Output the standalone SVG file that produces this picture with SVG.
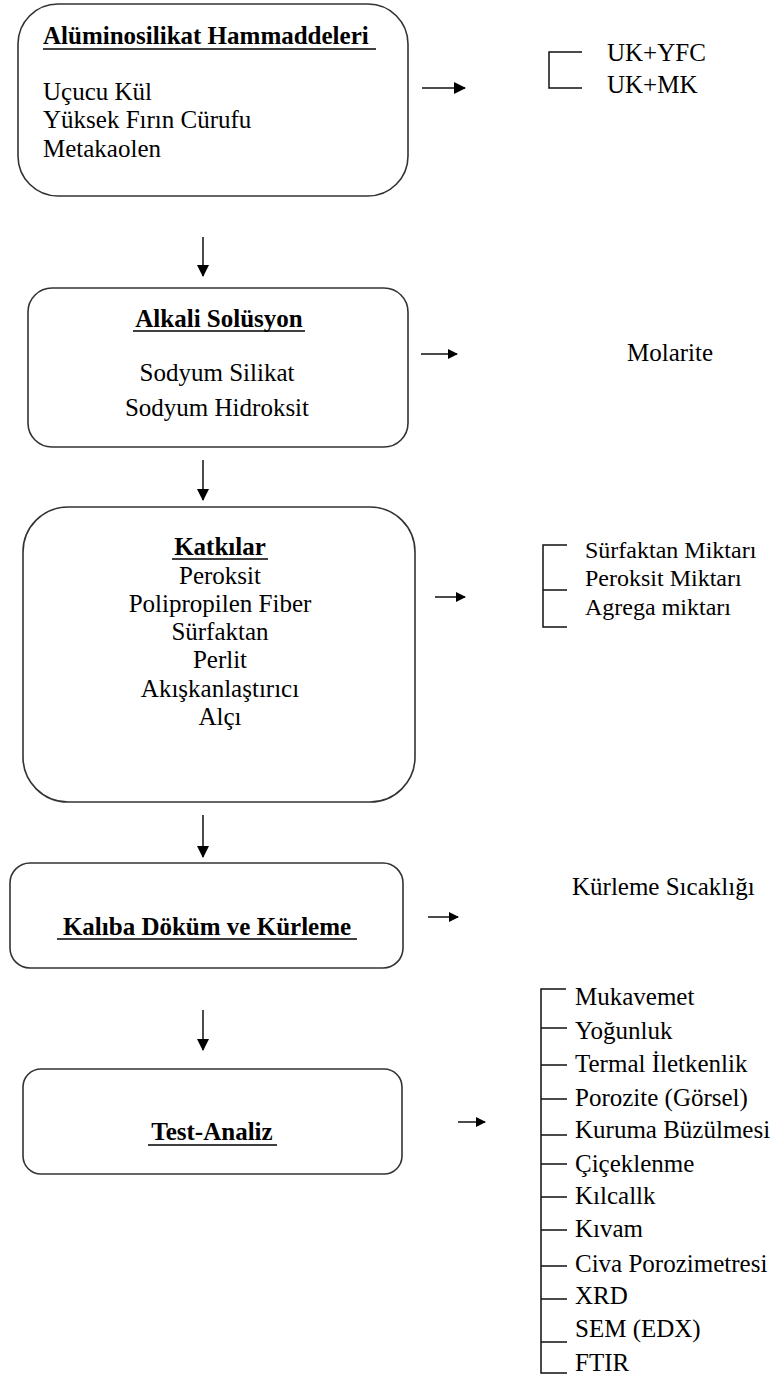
<svg xmlns="http://www.w3.org/2000/svg" width="777" height="1378" viewBox="0 0 777 1378">
<defs>
<marker id="ah" viewBox="0 0 12 12" refX="11" refY="6" markerWidth="12" markerHeight="12" markerUnits="userSpaceOnUse" orient="auto">
<path d="M0,0 L12,6 L0,12 Z" fill="#000"/>
</marker>
<marker id="ahs" viewBox="0 0 10 10" refX="9" refY="5" markerWidth="10" markerHeight="10" markerUnits="userSpaceOnUse" orient="auto">
<path d="M0,0 L10,5 L0,10 Z" fill="#000"/>
</marker>
</defs>
<rect width="777" height="1378" fill="#fff"/>

<g id="hammadde">
<rect x="18" y="4" width="390" height="192" rx="40" ry="40" fill="#fff" stroke="#333" stroke-width="1.6"/>
<text x="43" y="44" font-family="Liberation Serif" font-size="25" font-weight="bold">Alüminosilikat Hammaddeleri</text>
<line x1="43" y1="49" x2="376" y2="49" stroke="#000" stroke-width="1.5"/>
<text x="43" y="100" font-family="Liberation Serif" font-size="25">Uçucu Kül</text>
<text x="43" y="128" font-family="Liberation Serif" font-size="25">Yüksek Fırın Cürufu</text>
<text x="43" y="157" font-family="Liberation Serif" font-size="25">Metakaolen</text>
</g>

<g id="alkali">
<rect x="28" y="288" width="380" height="159" rx="24" ry="24" fill="#fff" stroke="#333" stroke-width="1.6"/>
<text x="219" y="327" font-family="Liberation Serif" font-size="25" font-weight="bold" text-anchor="middle">Alkali Solüsyon</text>
<line x1="133" y1="331" x2="305" y2="331" stroke="#000" stroke-width="1.5"/>
<text x="217" y="381" font-family="Liberation Serif" font-size="25" text-anchor="middle">Sodyum Silikat</text>
<text x="217" y="416" font-family="Liberation Serif" font-size="25" text-anchor="middle">Sodyum Hidroksit</text>
</g>

<g id="katkilar">
<rect x="23" y="507" width="392" height="295" rx="45" ry="45" fill="#fff" stroke="#333" stroke-width="1.6"/>
<text x="220" y="555" font-family="Liberation Serif" font-size="25" font-weight="bold" text-anchor="middle">Katkılar</text>
<line x1="172" y1="559" x2="268" y2="559" stroke="#000" stroke-width="1.5"/>
<text x="220" y="584" font-family="Liberation Serif" font-size="25" text-anchor="middle">Peroksit</text>
<text x="220" y="612" font-family="Liberation Serif" font-size="25" text-anchor="middle">Polipropilen Fiber</text>
<text x="220" y="640" font-family="Liberation Serif" font-size="25" text-anchor="middle">Sürfaktan</text>
<text x="220" y="668" font-family="Liberation Serif" font-size="25" text-anchor="middle">Perlit</text>
<text x="220" y="697" font-family="Liberation Serif" font-size="25" text-anchor="middle">Akışkanlaştırıcı</text>
<text x="220" y="725" font-family="Liberation Serif" font-size="25" text-anchor="middle">Alçı</text>
</g>

<g id="kaliba">
<rect x="10" y="863" width="393" height="105" rx="20" ry="20" fill="#fff" stroke="#333" stroke-width="1.6"/>
<text x="207" y="935" font-family="Liberation Serif" font-size="25" font-weight="bold" text-anchor="middle">Kalıba Döküm ve Kürleme</text>
<line x1="57" y1="939" x2="357" y2="939" stroke="#000" stroke-width="1.5"/>
</g>

<g id="testanaliz">
<rect x="23" y="1069" width="379" height="105" rx="18" ry="18" fill="#fff" stroke="#333" stroke-width="1.6"/>
<text x="212" y="1140" font-family="Liberation Serif" font-size="25" font-weight="bold" text-anchor="middle">Test-Analiz</text>
<line x1="148" y1="1145" x2="277" y2="1145" stroke="#000" stroke-width="1.5"/>
</g>

<g id="karisim">
<text x="607" y="61" font-family="Liberation Serif" font-size="25">UK+YFC</text>
<text x="607" y="93" font-family="Liberation Serif" font-size="25">UK+MK</text>
</g>

<g id="molarite">
<text x="627" y="361" font-family="Liberation Serif" font-size="25">Molarite</text>
</g>

<g id="miktar">
<text x="585" y="558" font-family="Liberation Serif" font-size="24">Sürfaktan Miktarı</text>
<text x="585" y="586" font-family="Liberation Serif" font-size="24">Peroksit Miktarı</text>
<text x="585" y="615" font-family="Liberation Serif" font-size="24">Agrega miktarı</text>
</g>

<g id="sicaklik">
<text x="572" y="895" font-family="Liberation Serif" font-size="25">Kürleme Sıcaklığı</text>
</g>

<g id="testler">
<text x="575" y="1005" font-family="Liberation Serif" font-size="25">Mukavemet</text>
<text x="575" y="1039" font-family="Liberation Serif" font-size="25">Yoğunluk</text>
<text x="575" y="1072" font-family="Liberation Serif" font-size="25">Termal İletkenlik</text>
<text x="575" y="1106" font-family="Liberation Serif" font-size="25">Porozite (Görsel)</text>
<text x="575" y="1138" font-family="Liberation Serif" font-size="25">Kuruma Büzülmesi</text>
<text x="575" y="1172" font-family="Liberation Serif" font-size="25">Çiçeklenme</text>
<text x="575" y="1204" font-family="Liberation Serif" font-size="25">Kılcallk</text>
<text x="575" y="1237" font-family="Liberation Serif" font-size="25">Kıvam</text>
<text x="575" y="1272" font-family="Liberation Serif" font-size="25">Civa Porozimetresi</text>
<text x="575" y="1304" font-family="Liberation Serif" font-size="25">XRD</text>
<text x="575" y="1337" font-family="Liberation Serif" font-size="25">SEM (EDX)</text>
<text x="575" y="1371" font-family="Liberation Serif" font-size="25">FTIR</text>
</g>

<g id="connectors" stroke="#111" stroke-width="1.5" fill="none">
<line x1="203" y1="237" x2="203" y2="276" marker-end="url(#ah)"/>
<line x1="203" y1="460" x2="203" y2="500" marker-end="url(#ah)"/>
<line x1="203" y1="815" x2="203" y2="857" marker-end="url(#ah)"/>
<line x1="203" y1="1010" x2="203" y2="1050" marker-end="url(#ah)"/>
<line x1="422" y1="88" x2="465" y2="88" marker-end="url(#ah)"/>
<line x1="421" y1="354" x2="457" y2="354" marker-end="url(#ahs)"/>
<line x1="435" y1="597" x2="465" y2="597" marker-end="url(#ahs)"/>
<line x1="428" y1="917" x2="458" y2="917" marker-end="url(#ahs)"/>
<line x1="458" y1="1122" x2="485" y2="1122" marker-end="url(#ahs)"/>
<path d="M582,52 H549 V88 H582"/>
<path d="M567,545 H543 V627 H567 M543,590 H567"/>
<path d="M566,989 H541 V1373 H567 M541,1028 H567 M541,1065 H567 M541,1099 H567 M541,1135 H567 M541,1164 H567 M541,1197 H567 M541,1230 H567 M541,1266 H567 M541,1299 H567 M541,1342 H567"/>
</g>
</svg>
